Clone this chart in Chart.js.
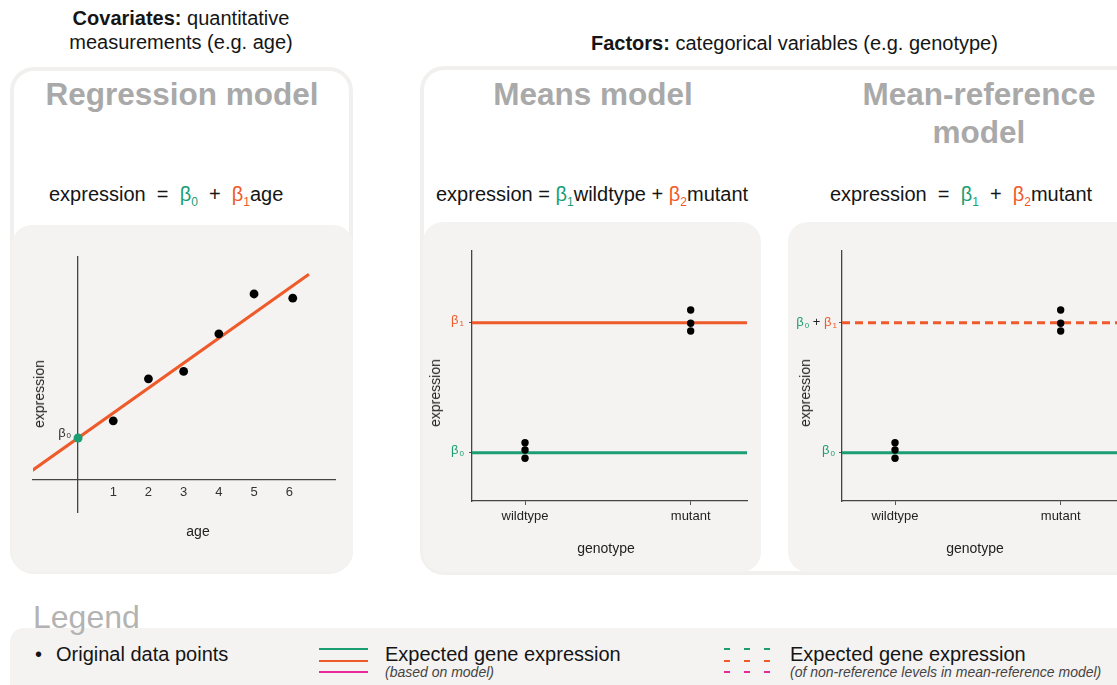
<!DOCTYPE html>
<html><head><meta charset="utf-8">
<script src="https://cdn.jsdelivr.net/npm/chart.js@4.4.0/dist/chart.umd.min.js"></script>
<style>
html,body{margin:0;padding:0;}
body{width:1117px;height:685px;overflow:hidden;position:relative;background:#fff;font-family:'Liberation Sans',Arial,Helvetica,sans-serif;color:#151515;}
.outer{position:absolute;border:4px solid #f1f0ee;border-radius:24px;box-sizing:border-box;}
.panel{position:absolute;background:#f4f3f1;border-radius:20px;}
.title{position:absolute;font-weight:bold;font-size:31.5px;color:#a9a9a9;text-align:center;line-height:38px;}
.hdr{position:absolute;font-size:20px;line-height:24px;text-align:center;white-space:nowrap;}
.eq{position:absolute;font-size:20px;line-height:24px;white-space:pre;}
.eq sub{font-size:12px;vertical-align:-5px;line-height:0;}
.g{color:#1b9e74}.o{color:#ef5a2a}
.axt{position:absolute;font-size:14px;color:#222;white-space:nowrap;line-height:16px;transform:translate(-50%,-50%);}
.rot{transform:translate(-50%,-50%) rotate(-90deg);}
.lg{position:absolute;font-size:20px;line-height:24px;white-space:nowrap;}
.lgs{position:absolute;font-size:14px;line-height:16px;font-style:italic;color:#444;white-space:nowrap;}
.ln{position:absolute;height:2px;width:49px;}
.dl{position:absolute;height:2px;width:46px;}
canvas{position:absolute;}
</style></head>
<body>
<div class="outer" style="left:10px;top:67px;width:343px;height:507px;"></div>
<div class="outer" style="left:420px;top:66px;width:740px;height:509px;"></div>
<div class="panel" style="left:12px;top:225px;width:341px;height:347px;"></div>
<div class="panel" style="left:423px;top:222px;width:338px;height:350px;"></div>
<div class="panel" style="left:788px;top:222px;width:360px;height:350px;"></div>
<div class="panel" style="left:10px;top:628px;width:1130px;height:80px;border-radius:14px;"></div>

<div class="hdr" style="left:6px;top:6px;width:350px;"><b>Covariates:</b> quantitative<br>measurements (e.g. age)</div>
<div class="hdr" style="left:591px;top:31px;width:400px;"><b>Factors:</b> categorical variables (e.g. genotype)</div>

<div class="title" style="left:2px;top:75px;width:360px;">Regression model</div>
<div class="title" style="left:443px;top:75px;width:300px;">Means model</div>
<div class="title" style="left:829px;top:75px;width:300px;">Mean-reference<br>model</div>

<div class="eq" style="left:49px;top:182px;">expression  =  <span class="g">β<sub>0</sub></span>  +  <span class="o">β<sub>1</sub></span>age</div>
<div class="eq" style="left:436px;top:182px;">expression = <span class="g">β<sub>1</sub></span>wildtype + <span class="o">β<sub>2</sub></span>mutant</div>
<div class="eq" style="left:830px;top:182px;">expression  =  <span class="g">β<sub>1</sub></span>  +  <span class="o">β<sub>2</sub></span>mutant</div>

<canvas id="reg" width="341" height="347" style="left:12px;top:225px;"></canvas>
<canvas id="means" width="338" height="350" style="left:423px;top:222px;"></canvas>
<canvas id="meanref" width="345" height="350" style="left:788px;top:222px;"></canvas>

<div class="axt rot" style="left:39px;top:394px;">expression</div>
<div class="axt" style="left:198px;top:531px;">age</div>
<div class="axt rot" style="left:435px;top:393px;">expression</div>
<div class="axt" style="left:606px;top:548px;">genotype</div>
<div class="axt rot" style="left:805px;top:393px;">expression</div>
<div class="axt" style="left:975px;top:548px;">genotype</div>

<div style="position:absolute;left:33px;top:599px;font-size:32px;line-height:36px;color:#b3b3b3;">Legend</div>
<div class="lg" style="left:35px;top:642px;">•</div>
<div class="lg" style="left:56px;top:642px;">Original data points</div>
<div class="ln" style="left:319px;top:648px;background:#1b9e74;"></div>
<div class="ln" style="left:319px;top:660px;background:#ef5a2a;"></div>
<div class="ln" style="left:319px;top:671px;background:#e7299a;"></div>
<div class="lg" style="left:385px;top:642px;">Expected gene expression</div>
<div class="lgs" style="left:385px;top:664px;">(based on model)</div>
<div class="dl" style="left:724px;top:648px;background:repeating-linear-gradient(to right,#1b9e74 0 6px,transparent 6px 20px);"></div>
<div class="dl" style="left:724px;top:660px;background:repeating-linear-gradient(to right,#ef5a2a 0 6px,transparent 6px 20px);"></div>
<div class="dl" style="left:724px;top:671px;background:repeating-linear-gradient(to right,#e7299a 0 6px,transparent 6px 20px);"></div>
<div class="lg" style="left:790px;top:642px;">Expected gene expression</div>
<div class="lgs" style="left:790px;top:664px;">(of non-reference levels in mean-reference model)</div>

<script>
// ---- Regression model data ----
const ages = [1, 2, 3, 4, 5, 6.1];
const ageExpression = [1.68, 2.87, 3.08, 4.15, 5.28, 5.16];
const ageTicks = [1, 2, 3, 4, 5, 6];
const interceptValue = 1.19;
const fitLineAge = [-1.3, 6.56];
const fitLineExpression = [0.27, 5.84];

// ---- Genotype (factor) data ----
const genotypes = ['wildtype', 'mutant'];
const genotypePos = [1, 2];
const wildtypeExpression = [2.33, 2.04, 1.71];
const mutantExpression = [7.64, 7.11, 6.80];
const wildtypeMean = 1.93;
const mutantMean = 7.13;

const GREEN = '#1b9e74';
const ORANGE = '#ef5a2a';
const AXIS = '#444';
Chart.defaults.font.family = "'Liberation Sans', Arial, Helvetica, sans-serif";

const betaPlugin = {
  id: 'betaLabels',
  afterDraw(chart, args, opts) {
    const ctx = chart.ctx;
    const xs = chart.scales.x, ys = chart.scales.y;
    const mainF = "13px 'Liberation Sans', Arial, sans-serif";
    const subF = "8px 'Liberation Sans', Arial, sans-serif";
    (opts.items || []).forEach(it => {
      const px = xs.getPixelForValue(it.x) + (it.dx || 0);
      const py = ys.getPixelForValue(it.y) + (it.dy || 0);
      ctx.save();
      ctx.textBaseline = 'middle';
      ctx.textAlign = 'left';
      let w = 0;
      it.parts.forEach(p => {
        ctx.font = mainF; w += ctx.measureText(p.t).width;
        if (p.s) { ctx.font = subF; w += ctx.measureText(p.s).width + 1; }
      });
      let x = px - w;
      it.parts.forEach(p => {
        ctx.fillStyle = p.c;
        ctx.font = mainF; ctx.fillText(p.t, x, py); x += ctx.measureText(p.t).width;
        if (p.s) { ctx.font = subF; ctx.fillText(p.s, x + 1, py + 3); x += ctx.measureText(p.s).width + 1; }
      });
      ctx.restore();
    });
  }
};

// Regression chart
new Chart(document.getElementById('reg'), {
  type: 'scatter',
  data: { datasets: [
    { data: ages.map((a, i) => ({ x: a, y: ageExpression[i] })), backgroundColor: '#000', borderColor: '#000', pointRadius: 4.4, borderWidth: 0 },
    { data: [{ x: 0, y: interceptValue }], backgroundColor: GREEN, borderColor: GREEN, pointRadius: 4.5, borderWidth: 0 },
    { type: 'line', data: fitLineAge.map((a, i) => ({ x: a, y: fitLineExpression[i] })), borderColor: ORANGE, borderWidth: 3, pointRadius: 0, showLine: true, fill: false }
  ]},
  options: {
    responsive: false, animation: false, devicePixelRatio: 1,
    layout: { padding: { left: 21, right: 18, top: 32, bottom: 60 } },
    plugins: { legend: { display: false }, tooltip: { enabled: false },
      betaLabels: { items: [{ x: 0, y: interceptValue, dx: -7, dy: -5, parts: [{ t: 'β', s: '0', c: '#333' }] }] } },
    scales: {
      x: { type: 'linear', min: -1.28, max: 7.3, position: { y: 0 },
        grid: { display: false, drawTicks: false }, border: { color: AXIS, width: 1.3 },
        ticks: { color: '#333', font: { size: 13 }, padding: 5 },
        afterBuildTicks: s => { s.ticks = ageTicks.map(v => ({ value: v })); } },
      y: { type: 'linear', min: -0.91, max: 6.33, position: { x: 0 },
        grid: { display: false, drawTicks: false }, border: { color: AXIS, width: 1.3 },
        ticks: { display: false } }
    }
  },
  plugins: [betaPlugin]
});

const X_MIN = 0.68, X_MAX = 2.34, Y_MIN = 0, Y_MAX = 10;

function genotypeChart(id, dashed, pad, items) {
  new Chart(document.getElementById(id), {
    type: 'scatter',
    data: { datasets: [
      { data: wildtypeExpression.map(v => ({ x: genotypePos[0], y: v }))
          .concat(mutantExpression.map(v => ({ x: genotypePos[1], y: v }))),
        backgroundColor: '#000', borderColor: '#000', pointRadius: 3.7, borderWidth: 0 },
      { type: 'line', data: [{ x: X_MIN, y: wildtypeMean }, { x: X_MAX, y: wildtypeMean }],
        borderColor: GREEN, borderWidth: 3, pointRadius: 0, showLine: true, fill: false },
      { type: 'line', data: [{ x: X_MIN, y: mutantMean }, { x: X_MAX, y: mutantMean }],
        borderColor: ORANGE, borderWidth: 3, borderDash: dashed ? [8, 5] : [], pointRadius: 0, showLine: true, fill: false }
    ]},
    options: {
      responsive: false, animation: false, devicePixelRatio: 1,
      layout: { padding: pad },
      plugins: { legend: { display: false }, tooltip: { enabled: false }, betaLabels: { items } },
      scales: {
        x: { type: 'linear', min: X_MIN, max: X_MAX,
          afterBuildTicks: s => { s.ticks = genotypePos.map(v => ({ value: v })); },
          ticks: { callback: (v, i) => genotypes[i], color: '#222', font: { size: 13 }, padding: 4, maxRotation: 0 },
          grid: { drawOnChartArea: false, drawTicks: true, tickLength: 4, color: '#555' },
          border: { color: AXIS, width: 1.3 },
          afterFit: s => { s.height = 30; } },
        y: { type: 'linear', min: Y_MIN, max: Y_MAX,
          afterBuildTicks: s => { s.ticks = [wildtypeMean, mutantMean].map(v => ({ value: v })); },
          ticks: { display: false },
          grid: { drawOnChartArea: false, drawTicks: true, tickLength: 3, color: '#555' },
          border: { color: AXIS, width: 1.3 },
          afterFit: s => { s.width = 0; } }
      }
    },
    plugins: [betaPlugin]
  });
}

genotypeChart('means', false, { left: 49, right: 14, top: 29, bottom: 41 }, [
  { x: X_MIN, y: mutantMean, dx: -8, dy: -2, parts: [{ t: 'β', s: '1', c: ORANGE }] },
  { x: X_MIN, y: wildtypeMean, dx: -8, dy: -2, parts: [{ t: 'β', s: '0', c: GREEN }] }
]);
genotypeChart('meanref', true, { left: 54, right: 16, top: 29, bottom: 41 }, [
  { x: X_MIN, y: mutantMean, dx: -5, dy: 0, parts: [{ t: 'β', s: '0', c: GREEN }, { t: ' + ', c: '#222' }, { t: 'β', s: '1', c: ORANGE }] },
  { x: X_MIN, y: wildtypeMean, dx: -7, dy: -2, parts: [{ t: 'β', s: '0', c: GREEN }] }
]);
</script>
</body></html>
